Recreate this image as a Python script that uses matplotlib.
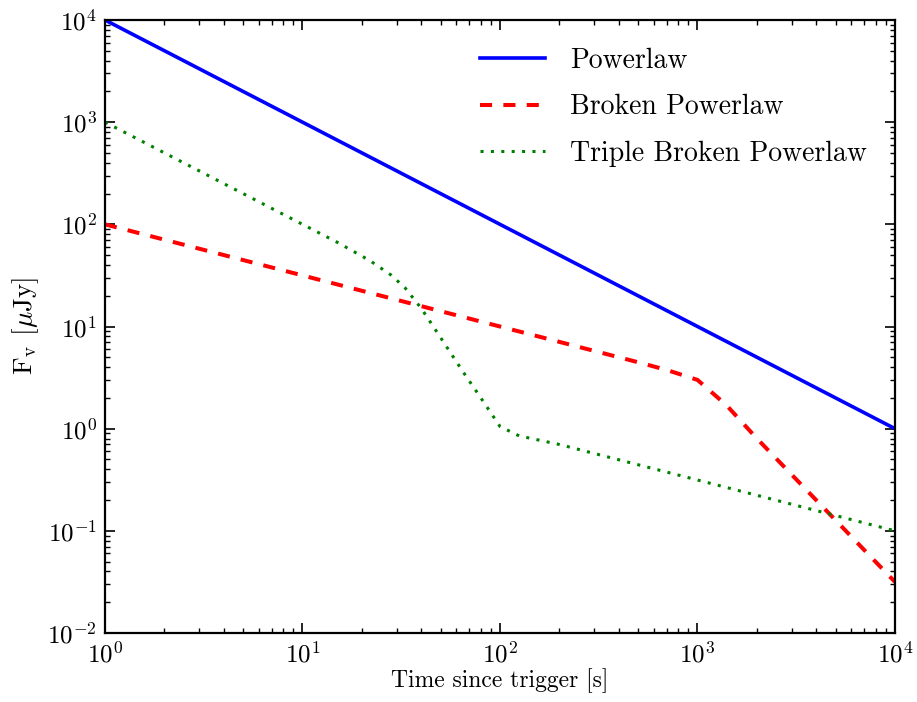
import matplotlib
matplotlib.use("Agg")
import matplotlib.pyplot as plt
from matplotlib.ticker import NullFormatter

plt.rcParams['font.family'] = 'serif'
plt.rcParams['font.serif'] = ['cmr10', 'DejaVu Serif']
plt.rcParams['mathtext.fontset'] = 'cm'
plt.rcParams['axes.formatter.use_mathtext'] = True
plt.rcParams['axes.unicode_minus'] = False

# Data
t_pl = [1, 1e4]
f_pl = [1e4, 1.0]

t_bpl = [1, 500, 700, 1000, 1400, 2000, 1e4]
f_bpl = [100, 4.47, 3.75, 3.0, 1.7, 0.8, 0.0316]

t_tbpl = [1, 15, 22, 28, 33, 40, 50, 65, 80, 100, 125, 200, 1e4]
f_tbpl = [1000, 66.7, 44, 32, 24, 15, 7.8, 3.6, 2.0, 1.05, 0.85, 0.7, 0.1]

labels = ["Powerlaw", "Broken Powerlaw", "Triple Broken Powerlaw"]

fig = plt.figure(figsize=(9.17, 7.02), dpi=100)
ax = fig.add_axes([0.1145, 0.0983, 0.976 - 0.1145, 0.9715 - 0.0983])

ax.plot(t_pl, f_pl, color='blue', lw=2.6, ls='-', label=labels[0])
ax.plot(t_bpl, f_bpl, color='red', lw=2.9, ls=(0, (3.0, 2.8)), label=labels[1])
ax.plot(t_tbpl, f_tbpl, color='green', lw=2.2, ls=(0, (1, 2.4)), label=labels[2])

ax.set_xscale('log')
ax.set_yscale('log')
ax.set_xlim(1, 1e4)
ax.set_ylim(1e-2, 1e4)
ax.xaxis.set_minor_formatter(NullFormatter())
ax.yaxis.set_minor_formatter(NullFormatter())

ax.set_xlabel('Time since trigger [s]', fontsize=17, labelpad=1)
ax.set_ylabel(r'F$_{\rm v}$ [$\mu$Jy]', fontsize=19.5, labelpad=4)

ax.tick_params(which='both', direction='in', top=True, right=True)
ax.tick_params(which='major', length=7, width=1.2, labelsize=18, pad=6)
ax.tick_params(which='minor', length=3.5, width=1.0)
for s in ax.spines.values():
    s.set_linewidth(1.6)

ax.legend(loc='upper right', frameon=False, fontsize=20, handlelength=2.35,
          labelspacing=0.72, handletextpad=0.9, borderaxespad=0.6)

fig.savefig('out.png', dpi=100)
